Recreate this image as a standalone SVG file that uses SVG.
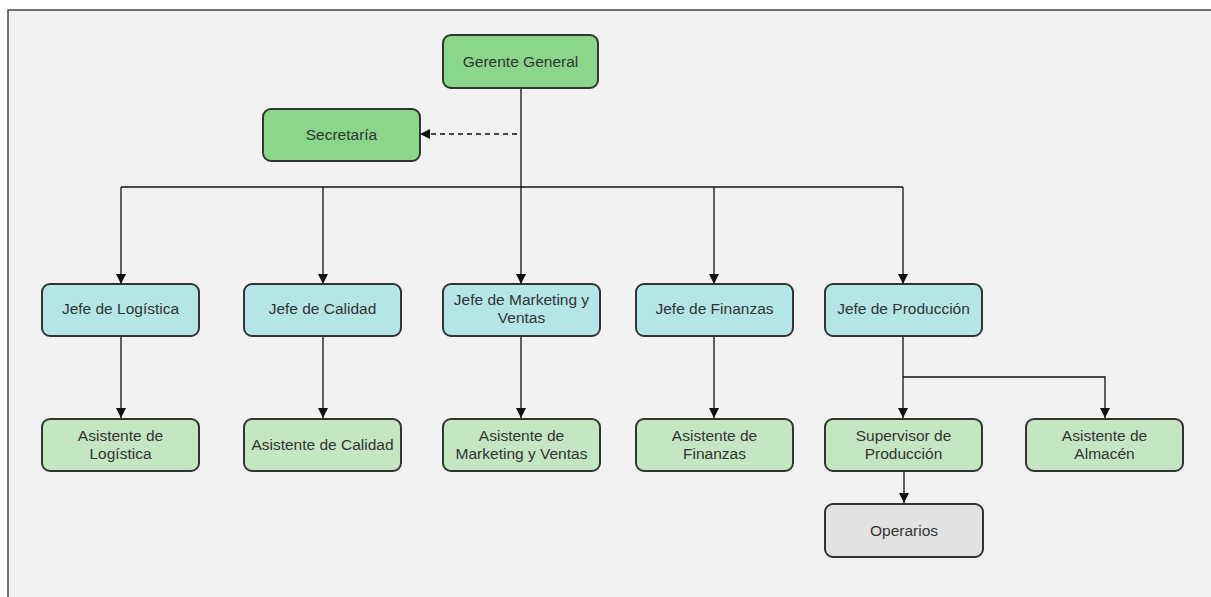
<svg xmlns="http://www.w3.org/2000/svg" width="1211" height="597" viewBox="0 0 1211 597">
  <defs>
    <marker id="arrow" viewBox="0 0 10 12" refX="10" refY="6" markerWidth="10" markerHeight="12" markerUnits="userSpaceOnUse" orient="auto">
      <path d="M0,1 L10,6 L0,11 z" fill="#111"/>
    </marker>
  </defs>
  <style>
    .box { stroke: #333; stroke-width: 2; }
    .top { fill: #8ad68a; }
    .jefe { fill: #b4e6e6; }
    .asis { fill: #c5e6c2; }
    .gray { fill: #e2e2e2; }
    .lbl { font-family: "Liberation Sans", Arial, sans-serif; font-size: 15.5px; fill: #333; text-anchor: middle; }
    .link { fill: none; stroke: #111; stroke-width: 1.3; }
    .dash { stroke-dasharray: 5 4; }
  </style>

  <!-- page background and frame -->
  <rect x="0" y="0" width="1211" height="597" fill="#ffffff"/>
  <rect x="8" y="10" width="1220" height="600" fill="#f2f2f2" stroke="#444" stroke-width="1.5"/>

  <!-- connectors -->
  <g id="connectors">
    <path class="link dash" d="M517,134 H420" marker-end="url(#arrow)"/>
    <path class="link" d="M521,88 V284" marker-end="url(#arrow)"/>
    <path class="link" d="M121,187 H903"/>
    <path class="link" d="M121,187 V284" marker-end="url(#arrow)"/>
    <path class="link" d="M323,187 V284" marker-end="url(#arrow)"/>
    <path class="link" d="M714,187 V284" marker-end="url(#arrow)"/>
    <path class="link" d="M903,187 V284" marker-end="url(#arrow)"/>
    <path class="link" d="M121,336 V418" marker-end="url(#arrow)"/>
    <path class="link" d="M323,336 V418" marker-end="url(#arrow)"/>
    <path class="link" d="M521,336 V418" marker-end="url(#arrow)"/>
    <path class="link" d="M714,336 V418" marker-end="url(#arrow)"/>
    <path class="link" d="M903,336 V418" marker-end="url(#arrow)"/>
    <path class="link" d="M903,377 H1105 V418" marker-end="url(#arrow)"/>
    <path class="link" d="M904,471 V503" marker-end="url(#arrow)"/>
  </g>

  <g id="gerente">
    <rect class="box top" x="443" y="35" width="155" height="53" rx="8"/>
    <text class="lbl" x="520.5" y="67">Gerente General</text>
  </g>
  <g id="secretaria">
    <rect class="box top" x="263" y="109" width="157" height="52" rx="8"/>
    <text class="lbl" x="341.5" y="140">Secretaría</text>
  </g>

  <g id="jefe-logistica">
    <rect class="box jefe" x="42" y="284" width="157" height="52" rx="8"/>
    <text class="lbl" x="120.5" y="314">Jefe de Logística</text>
  </g>
  <g id="jefe-calidad">
    <rect class="box jefe" x="244" y="284" width="157" height="52" rx="8"/>
    <text class="lbl" x="322.5" y="314">Jefe de Calidad</text>
  </g>
  <g id="jefe-marketing">
    <rect class="box jefe" x="443" y="284" width="157" height="52" rx="8"/>
    <text class="lbl" x="521.5" y="305">Jefe de Marketing y</text>
    <text class="lbl" x="521.5" y="323">Ventas</text>
  </g>
  <g id="jefe-finanzas">
    <rect class="box jefe" x="636" y="284" width="157" height="52" rx="8"/>
    <text class="lbl" x="714.5" y="314">Jefe de Finanzas</text>
  </g>
  <g id="jefe-produccion">
    <rect class="box jefe" x="825" y="284" width="157" height="52" rx="8"/>
    <text class="lbl" x="903.5" y="314">Jefe de Producción</text>
  </g>

  <g id="asistente-logistica">
    <rect class="box asis" x="42" y="419" width="157" height="52" rx="8"/>
    <text class="lbl" x="120.5" y="441">Asistente de</text>
    <text class="lbl" x="120.5" y="459">Logística</text>
  </g>
  <g id="asistente-calidad">
    <rect class="box asis" x="244" y="419" width="157" height="52" rx="8"/>
    <text class="lbl" x="322.5" y="450">Asistente de Calidad</text>
  </g>
  <g id="asistente-marketing">
    <rect class="box asis" x="443" y="419" width="157" height="52" rx="8"/>
    <text class="lbl" x="521.5" y="441">Asistente de</text>
    <text class="lbl" x="521.5" y="459">Marketing y Ventas</text>
  </g>
  <g id="asistente-finanzas">
    <rect class="box asis" x="636" y="419" width="157" height="52" rx="8"/>
    <text class="lbl" x="714.5" y="441">Asistente de</text>
    <text class="lbl" x="714.5" y="459">Finanzas</text>
  </g>
  <g id="supervisor-produccion">
    <rect class="box asis" x="825" y="419" width="157" height="52" rx="8"/>
    <text class="lbl" x="903.5" y="441">Supervisor de</text>
    <text class="lbl" x="903.5" y="459">Producción</text>
  </g>
  <g id="asistente-almacen">
    <rect class="box asis" x="1026" y="419" width="157" height="52" rx="8"/>
    <text class="lbl" x="1104.5" y="441">Asistente de</text>
    <text class="lbl" x="1104.5" y="459">Almacén</text>
  </g>

  <g id="operarios">
    <rect class="box gray" x="825" y="504" width="158" height="53" rx="8"/>
    <text class="lbl" x="904" y="536">Operarios</text>
  </g>
</svg>
